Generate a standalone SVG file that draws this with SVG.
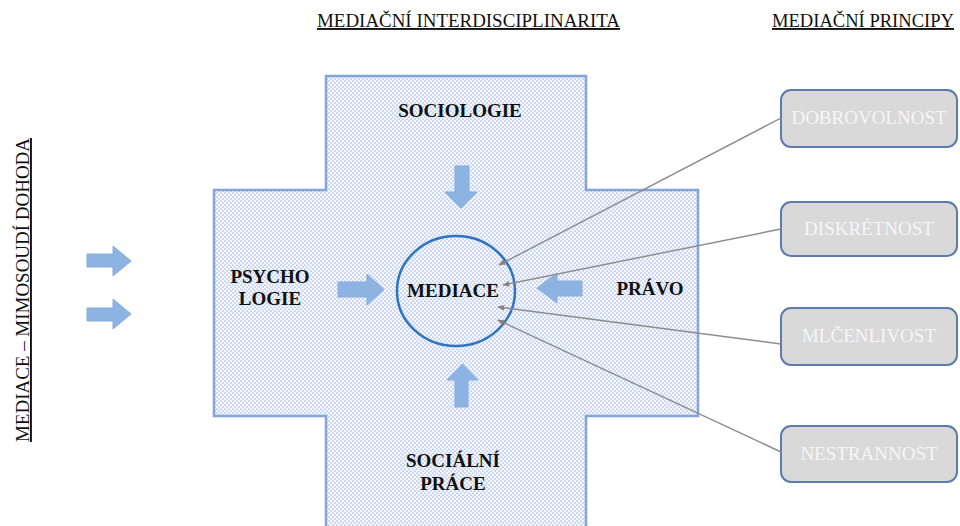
<svg xmlns="http://www.w3.org/2000/svg" width="960" height="526" viewBox="0 0 960 526">
  <defs>
    <!-- stippled fill for the cross -->
    <pattern id="dots" width="4" height="4" patternUnits="userSpaceOnUse">
      <rect width="4" height="4" fill="#f3f6fc"/>
      <circle cx="1" cy="1" r="0.62" fill="#5a80c8"/>
      <circle cx="3" cy="3" r="0.62" fill="#5a80c8"/>
    </pattern>
    <marker id="tip" viewBox="0 0 10 10" refX="9" refY="5" markerWidth="5" markerHeight="5" orient="auto">
      <path d="M0,1 L10,5 L0,9 z" fill="#8a7f7a"/>
    </marker>
  </defs>
  <style>
    .title { font-family: "Liberation Serif", "Times New Roman", serif; font-size: 19px; fill: #111; text-decoration: underline; }
    .lbl { font-family: "Liberation Serif", "Times New Roman", serif; font-size: 19px; font-weight: bold; fill: #111; text-anchor: middle; }
    .box { fill: #d9d9d9; stroke: #5d7bae; stroke-width: 2; }
    .boxtxt { font-family: "Liberation Serif", "Times New Roman", serif; font-size: 19px; fill: #f6f6f6; text-anchor: middle; }
    .blk { fill: #8db3e2; stroke: #86acdc; stroke-width: 1; }
    .conn { stroke: #8c8c8c; stroke-width: 1.4; fill: none; marker-end: url(#tip); }
  </style>

  <rect width="960" height="526" fill="#ffffff"/>

  <!-- headings -->
  <text class="title" x="317" y="27" textLength="303" lengthAdjust="spacingAndGlyphs">MEDIAČNÍ INTERDISCIPLINARITA</text>
  <text class="title" x="772" y="27" textLength="182" lengthAdjust="spacingAndGlyphs">MEDIAČNÍ PRINCIPY</text>
  <text class="title" transform="translate(29,442) rotate(-90)" x="0" y="0" textLength="304" lengthAdjust="spacingAndGlyphs">MEDIACE – MIMOSOUDÍ DOHODA</text>

  <!-- cross of disciplines -->
  <g id="cross">
    <path d="M326,76 H586 V190 H698 V416 H586 V530 H326 V416 H214 V190 H326 Z" fill="url(#dots)" stroke="#84a5da" stroke-width="2.5"/>
  </g>

  <!-- left entry arrows -->
  <g id="entry-arrows">
    <path class="blk" d="M87,254 H113 V246 L131,261 L113,276 V267 H87 Z"/>
    <path class="blk" d="M87,308 H113 V299 L131,314 L113,329 V321 H87 Z"/>
  </g>

  <g id="sociologie">
    <text class="lbl" x="460" y="117">SOCIOLOGIE</text>
    <path class="blk" d="M455,166 H469 V192 H477 L461,208 L445,192 H455 Z"/>
  </g>

  <g id="psychologie">
    <text class="lbl" x="270" y="283">PSYCHO</text>
    <text class="lbl" x="270" y="305">LOGIE</text>
    <path class="blk" d="M338,282 H367 V274 L384,289.5 L367,305 V297 H338 Z"/>
  </g>

  <g id="pravo">
    <text class="lbl" x="650" y="295">PRÁVO</text>
    <path class="blk" d="M582,281 H557 V273 L537,288 L557,303 V296 H582 Z"/>
  </g>

  <g id="socialni-prace">
    <text class="lbl" x="453" y="467">SOCIÁLNÍ</text>
    <text class="lbl" x="453" y="490">PRÁCE</text>
    <path class="blk" d="M455,407 H468 V380 H478 L462.5,364 L447,380 H455 Z"/>
  </g>

  <g id="mediace">
    <ellipse cx="456" cy="291" rx="59" ry="55" fill="none" stroke="#2e74c0" stroke-width="2.5"/>
    <text class="lbl" x="453" y="297">MEDIACE</text>
  </g>

  <!-- principles -->
  <g id="dobrovolnost">
    <rect class="box" x="781" y="90" width="176" height="57" rx="10"/>
    <text class="boxtxt" x="869" y="124">DOBROVOLNOST</text>
  </g>
  <g id="diskretnost">
    <rect class="box" x="781" y="202" width="176" height="54" rx="10"/>
    <text class="boxtxt" x="869" y="235">DISKRÉTNOST</text>
  </g>
  <g id="mlcenlivost">
    <rect class="box" x="781" y="308" width="176" height="57" rx="10"/>
    <text class="boxtxt" x="869" y="342">MLČENLIVOST</text>
  </g>
  <g id="nestrannost">
    <rect class="box" x="781" y="426" width="176" height="56" rx="10"/>
    <text class="boxtxt" x="869" y="460">NESTRANNOST</text>
  </g>

  <!-- connectors from principles into the mediation circle -->
  <g id="connectors">
    <line class="conn" x1="781" y1="118" x2="499" y2="265"/>
    <line class="conn" x1="781" y1="229" x2="503" y2="285"/>
    <line class="conn" x1="781" y1="344" x2="498" y2="307"/>
    <line class="conn" x1="781" y1="452" x2="498" y2="320"/>
  </g>
</svg>
